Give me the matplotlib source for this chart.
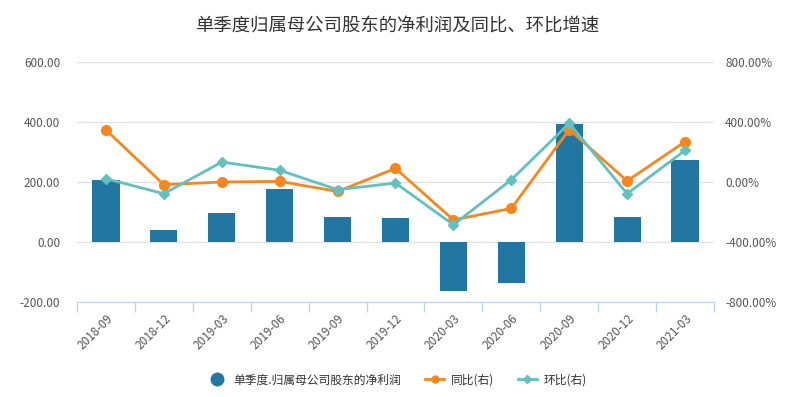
import matplotlib
matplotlib.use("Agg")
import matplotlib.pyplot as plt
import numpy as np
from matplotlib.lines import Line2D

plt.rcParams['font.family'] = ['Noto Sans CJK SC', 'DejaVu Sans']

categories = ["2018-09", "2018-12", "2019-03", "2019-06", "2019-09", "2019-12",
              "2020-03", "2020-06", "2020-09", "2020-12", "2021-03"]
profit = [207, 40, 97, 177, 83, 80, -162, -136, 393, 83, 273]
yoy = [347, -18, 0, 4, -63, 91, -253, -176, 349, 7, 269]
qoq = [22, -78, 133, 78, -51, -7, -285, 15, 391, -78, 211]

bar_color = "#2277a2"
orange = "#f7861c"
teal = "#62c0c0"
grid_color = "#e3e3e6"
axis_color = "#c4d1e8"
text_color = "#555555"

fig = plt.figure(figsize=(7.95, 3.97), dpi=100)
ax = fig.add_axes([77/795, 1-302/397, (714-77)/795, (302-62)/397])
ax2 = ax.twinx()

x = np.arange(len(categories))
ax.bar(x, profit, width=0.47, color=bar_color, zorder=2)
ax.set_ylim(-200, 600)
ax.set_yticks([-200, 0, 200, 400, 600])
ax.set_yticklabels([f"{v:.2f}" for v in [-200, 0, 200, 400, 600]])
ax.set_xlim(-0.5, len(categories) - 0.5)
ax.grid(axis='y', color=grid_color, linewidth=1, zorder=0)
ax.set_axisbelow(True)

ax2.plot(x, yoy, color=orange, linewidth=2, marker='o', markersize=7, zorder=3)
ax2.plot(x, qoq, color=teal, linewidth=2, marker='D', markersize=5, zorder=4)
ax2.set_ylim(-800, 800)
ax2.set_yticks([-800, -400, 0, 400, 800])
ax2.set_yticklabels([f"{v:.2f}%" for v in [-800, -400, 0, 400, 800]])

for a in (ax, ax2):
    for s in ['top', 'left', 'right']:
        a.spines[s].set_visible(False)
    a.spines['bottom'].set_color(axis_color)
    a.tick_params(axis='y', length=0, labelsize=8.5, labelcolor=text_color, pad=12)
ax2.tick_params(axis='y', pad=8)

ax.set_xticks(x)
ax.set_xticklabels(categories, rotation=45, ha='right', rotation_mode='anchor',
                   fontsize=8.5, color=text_color)
ax.tick_params(axis='x', which='major', length=0, pad=7)
ax.set_xticks(np.arange(-0.5, len(categories)), minor=True)
ax.tick_params(axis='x', which='minor', length=7, color=axis_color, width=1)

fig.text(0.5, 1-27/397, "单季度归属母公司股东的净利润及同比、环比增速", ha='center', va='center',
         fontsize=13.2, color="#333333")

handles = [
    Line2D([], [], marker='o', color='none', markerfacecolor=bar_color, markeredgecolor=bar_color, markersize=9),
    Line2D([], [], marker='o', color=orange, linewidth=2, markersize=5),
    Line2D([], [], marker='D', color=teal, linewidth=2, markersize=4),
]
labels = ["单季度.归属母公司股东的净利润", "同比(右)", "环比(右)"]
fig.legend(handles, labels, loc='center', bbox_to_anchor=(0.5, 1-380/397), ncol=3,
           frameon=False, fontsize=8.5, handlelength=1.6, columnspacing=2.0,
           handletextpad=0.6, labelcolor="#333333")

fig.savefig("out.png", dpi=100)
